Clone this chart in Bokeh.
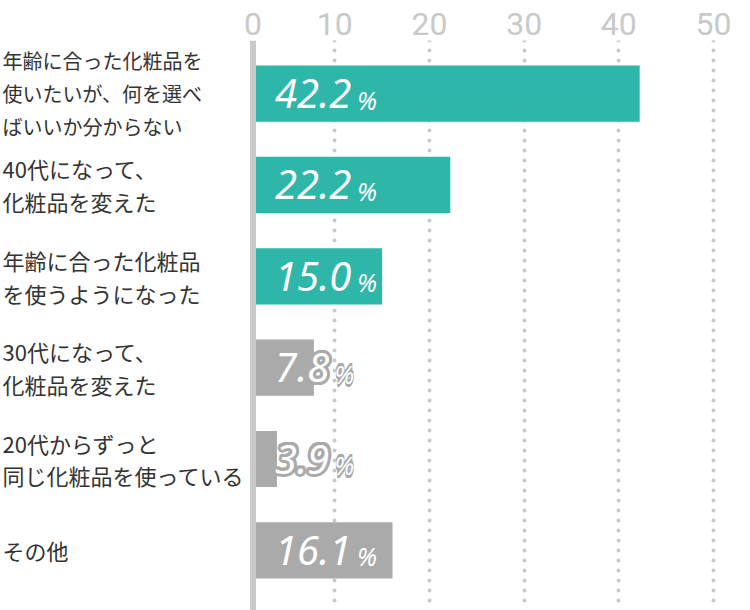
import math
from bokeh.plotting import figure
from bokeh.models import Range1d, FixedTicker, Span, ColumnDataSource
from bokeh.core.properties import value
from bokeh.embed import file_html
from bokeh.resources import INLINE

# ---- data ----
categories = [
    "年齢に合った化粧品を\n使いたいが、何を選べ\nばいいか分からない",
    "40代になって、\n化粧品を変えた",
    "年齢に合った化粧品\nを使うようになった",
    "30代になって、\n化粧品を変えた",
    "20代からずっと\n同じ化粧品を使っている",
    "その他",
]
values = [42.2, 22.2, 15.0, 7.8, 3.9, 16.1]
value_labels = ["42.2", "22.2", "15.0", "7.8", "3.9", "16.1"]
highlighted = [True, True, True, False, False, False]
x_ticks = [0, 10, 20, 30, 40, 50]
x_tick_labels = ["0", "10", "20", "30", "40", "50"]

# ---- style ----
TEAL = "#2eb6a9"
GRAY_BAR = "#aaaaaa"
LIGHT = "#c9c9c9"
LABEL_COLOR = "#333333"
FONT = "Noto Sans CJK JP"
NUM_FONT = "Noto Sans"
AXIS_FONT = "Roboto"
ZERO_POS = 1.37      # where the thick zero line / "0" label sit
BASE = 1.69          # bars start right of the zero line
NUM_FS = 40
PCT_FS = 25

X0, X1 = -25.29, 53.9
p = figure(width=750, height=610, output_backend="svg", toolbar_location=None,
           x_range=Range1d(X0, X1), y_range=Range1d(5.658, -0.581),
           x_axis_location="above", y_axis_location=None,
           min_border_left=0, min_border_right=0, min_border_bottom=0, min_border_top=0)
p.outline_line_color = None
p.background_fill_color = "white"
p.border_fill_color = "white"

# axis on top
tick_pos = [ZERO_POS if t == 0 else t for t in x_ticks]
ax = p.xaxis[0]
ax.ticker = FixedTicker(ticks=tick_pos)
ax.major_label_overrides = {tp: lab for tp, lab in zip(tick_pos, x_tick_labels)}
ax.axis_line_color = None
ax.major_tick_line_color = None
ax.minor_tick_line_color = None
ax.major_label_text_font_size = "32px"
ax.major_label_text_color = LIGHT
ax.major_label_text_font = AXIS_FONT
ax.major_label_standoff = 0
# tiny blank axis title = a little breathing room above the tick labels
ax.axis_label = " "
ax.axis_label_text_font_size = "5px"
ax.axis_label_standoff = 0

# dotted grid
p.xgrid.ticker = FixedTicker(ticks=[t for t in x_ticks if t != 0])
p.xgrid.grid_line_color = LIGHT
p.xgrid.grid_line_width = 4
p.xgrid.grid_line_dash = "0 10"
p.xgrid.grid_line_cap = "round"
p.ygrid.visible = False

# zero line
p.add_layout(Span(location=ZERO_POS, dimension="height", line_color=LIGHT, line_width=6))

ys = list(range(len(categories)))
colors = [TEAL if h else GRAY_BAR for h in highlighted]
src = ColumnDataSource(dict(y=ys, value=values, color=colors))
p.hbar(y="y", left=BASE, right="value", height=0.615, fill_color="color",
       line_color=None, source=src)

# category labels (left side)
src_l1 = ColumnDataSource(dict(y=ys[:1], text=categories[:1]))
src_l2 = ColumnDataSource(dict(y=ys[1:], text=categories[1:]))
p.text(x=X0, y="y", text="text", source=src_l1, x_offset=2,
       text_font=value(FONT), text_font_size="20px", text_color=LABEL_COLOR,
       text_align="left", text_baseline="middle", text_line_height=1.14)
p.text(x=X0, y="y", text="text", source=src_l2, x_offset=2,
       text_font=value(FONT), text_font_size="22px", text_color=LABEL_COLOR,
       text_align="left", text_baseline="middle", text_line_height=1.03)


# value labels
def est_w(s, fs):
    return sum(0.26 * fs if c == "." else 0.572 * fs for c in s)


NUM_X = 19
PCT_DY = 6
pct_off = [NUM_X + est_w(s, NUM_FS) + 3 for s in value_labels]
src_v = ColumnDataSource(dict(y=ys, text=value_labels, pct=["%"] * len(ys), pct_off=pct_off))
gray_idx = [i for i, h in enumerate(highlighted) if not h]
src_g = ColumnDataSource(dict(y=[ys[i] for i in gray_idx],
                              text=[value_labels[i] for i in gray_idx],
                              pct=["%"] * len(gray_idx),
                              pct_off=[pct_off[i] for i in gray_idx]))

outline_offsets = [(3.0 * math.cos(a * math.pi / 8), 3.0 * math.sin(a * math.pi / 8)) for a in range(16)]
for dx, dy in outline_offsets:
    p.text(x=BASE, y="y", text="text", source=src_g, x_offset=NUM_X + dx, y_offset=dy,
           text_font=value(NUM_FONT), text_font_size=f"{NUM_FS}px", text_font_style="italic",
           text_color=GRAY_BAR, text_align="left", text_baseline="middle")
    p.text(x=BASE, y="y", text="pct", source=src_g, x_offset={"field": "pct_off"}, y_offset=PCT_DY + dy,
           text_font=value(NUM_FONT), text_font_size=f"{PCT_FS}px", text_font_style="italic",
           text_color=GRAY_BAR, text_align="left", text_baseline="middle")

p.text(x=BASE, y="y", text="text", source=src_v, x_offset=NUM_X,
       text_font=value(NUM_FONT), text_font_size=f"{NUM_FS}px", text_font_style="italic",
       text_color="white", text_align="left", text_baseline="middle")
p.text(x=BASE, y="y", text="pct", source=src_v, x_offset="pct_off", y_offset=PCT_DY,
       text_font=value(NUM_FONT), text_font_size=f"{PCT_FS}px", text_font_style="italic",
       text_color="white", text_align="left", text_baseline="middle")

open("out.html", "w").write(file_html(p, INLINE))
